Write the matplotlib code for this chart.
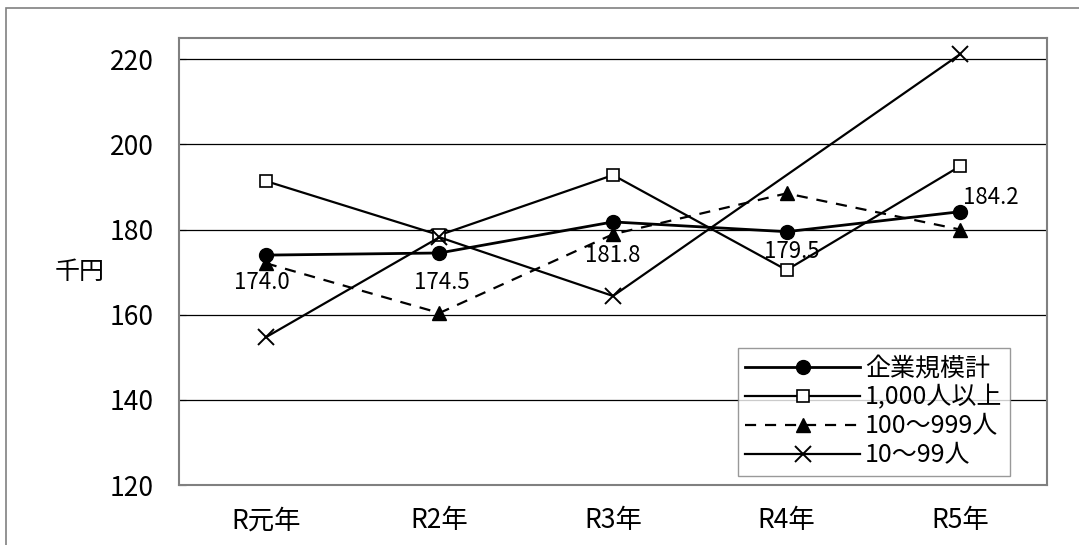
import numpy as np
import matplotlib.pyplot as plt
from matplotlib.patches import Rectangle

plt.rcParams['font.family'] = ['Noto Sans CJK JP', 'DejaVu Sans']

years = ['R元年', 'R2年', 'R3年', 'R4年', 'R5年']
total = [174.0, 174.5, 181.8, 179.5, 184.2]
large = [191.4, 178.7, 192.8, 170.5, 194.9]
medium = [172.1, 160.4, 178.9, 188.5, 180.0]
small = [154.7, 178.2, 164.4, np.nan, 221.2]

fig = plt.figure(figsize=(10.79, 5.45), dpi=100)
ax = fig.add_axes([179 / 1079, 1 - 485 / 545, (1047 - 179) / 1079, (485 - 38) / 545])

# outer chart frame
fig.patches.append(Rectangle((6 / 1079, -0.1), 1.2, 1 - 8 / 545 + 0.1,
                             transform=fig.transFigure, fill=False,
                             edgecolor='#808080', linewidth=1.2))

x = np.arange(len(years))
ax.plot(x, total, '-', color='black', lw=2, marker='o', ms=10, label='企業規模計')
ax.plot(x, large, '-', color='black', lw=1.6, marker='s', ms=9, mfc='white',
        mec='black', mew=1.2, label='1,000人以上')
ax.plot(x, medium, '--', color='black', lw=1.6, marker='^', ms=10, label='100〜999人',
        dashes=(5, 4))
sm = np.array(small)
ok = ~np.isnan(sm)
ax.plot(x[ok], sm[ok], '-', color='black', lw=1.6, marker='x', ms=11, mew=1.4,
        label='10〜99人')

# data labels for total
offsets = [(-3, -20), (2, -21), (0, -24), (4, -14), (22, 10)]
for i, v in enumerate(total):
    ax.annotate(f'{v:.1f}', (x[i], v), xytext=offsets[i], textcoords='offset points',
                ha='center', va='center', fontsize=16)

ax.set_xlim(-0.5, 4.5)
ax.set_ylim(120, 225)
ax.set_yticks([120, 140, 160, 180, 200, 220])
ax.set_xticks(x)
ax.set_xticklabels(years)
ax.tick_params(axis='both', labelsize=19, length=0, pad=16, colors='black')
ax.tick_params(axis='y', direction='in', length=5, pad=18)
ax.yaxis.grid(True, color='black', lw=0.9)
ax.set_axisbelow(True)
for s in ax.spines.values():
    s.set_color('#808080')
    s.set_linewidth(1.5)

fig.text(80 / 1079, 1 - 272 / 545, '千円', fontsize=18, ha='center', va='center')

leg = ax.legend(loc='lower right', bbox_to_anchor=((1010 - 179) / 868, (485 - 476) / 447),
                fontsize=18, frameon=True, fancybox=False, edgecolor='#808080',
                handlelength=4.6, handletextpad=0.2, labelspacing=0.12,
                borderpad=0.3, borderaxespad=0)
leg.get_frame().set_linewidth(1.0)

fig.savefig('out.png', dpi=100)
